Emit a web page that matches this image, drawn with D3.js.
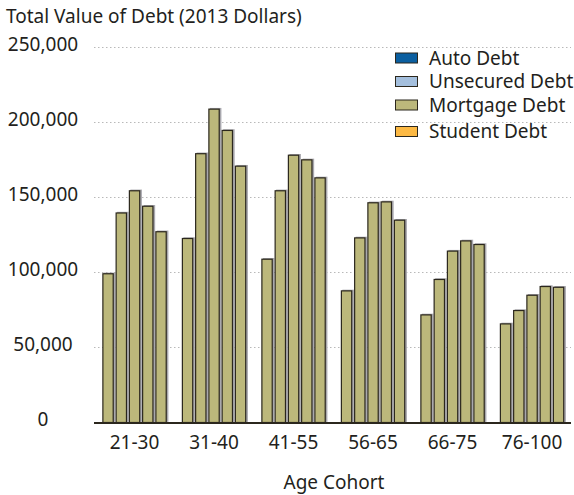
<!DOCTYPE html>
<html>
<head>
<meta charset="utf-8">
<script src="https://cdn.jsdelivr.net/npm/d3@7"></script>
<style>
  html, body { margin: 0; padding: 0; background: #fff; }
  svg { display: block; }
  text { font-family: "Noto Sans", "Open Sans", sans-serif; fill: #231f20; }
</style>
</head>
<body>
<svg id="chart" width="574" height="495"></svg>
<script>
// ---- data ----
const cohorts = ["21-30", "31-40", "41-55", "56-65", "66-75", "76-100"];
const years = ["2001", "2004", "2007", "2010", "2013"];
const mortgage2130 = [99500, 140000, 154800, 144500, 127500];
const mortgage3140 = [123000, 179500, 209200, 195000, 171200];
const mortgage4155 = [109200, 154800, 178500, 175400, 163400];
const mortgage5665 = [88100, 123400, 146800, 147400, 135200];
const mortgage6675 = [72100, 95700, 114600, 121400, 119000];
const mortgage76100 = [66100, 75000, 85200, 91000, 90500];
const yTicks = [0, 50000, 100000, 150000, 200000, 250000];
const legendLabels = ["Auto Debt", "Unsecured Debt", "Mortgage Debt", "Student Debt"];
const legendColors = ["#0b5fa0", "#a4bfdd", "#bcb87b", "#fcb944"];

const mortgageByCohort = [mortgage2130, mortgage3140, mortgage4155, mortgage5665, mortgage6675, mortgage76100];
const rows = cohorts.map((c, i) => ({ cohort: c, values: years.map((y, j) => ({ year: y, value: mortgageByCohort[i][j] })) }));

// ---- layout ----
const svg = d3.select("#chart");
const plotLeft = 94, plotRight = 571;
const y = d3.scaleLinear().domain([0, 250000]).range([422.5, 47.3]);
const x0 = d3.scaleBand().domain(cohorts).range([94.8, 571.8]).paddingInner(0.1667).paddingOuter(0.0833);
const x1 = d3.scaleBand().domain(years).range([0, x0.bandwidth()]).paddingInner(0.13).paddingOuter(0.065);

// title
svg.append("text").attr("x", 6).attr("y", 23).style("font-size", "19px").text("Total Value of Debt (2013 Dollars)");

// gridlines
svg.append("g").selectAll("line").data(yTicks.filter(d => d > 0)).join("line")
  .attr("x1", plotLeft).attr("x2", plotRight)
  .attr("y1", d => Math.round(y(d)) + 0.5).attr("y2", d => Math.round(y(d)) + 0.5)
  .attr("stroke", "#b9b9b9").attr("stroke-width", 1).attr("stroke-dasharray", "1.5,2.5");

// y labels
svg.append("g").selectAll("text").data(yTicks).join("text")
  .attr("x", 43).attr("y", d => y(d) + 3.5)
  .attr("text-anchor", "middle").style("font-size", "19px")
  .text(d => d3.format(",")(d));

// bars
const groups = svg.append("g").selectAll("g").data(rows).join("g")
  .attr("transform", d => `translate(${x0(d.cohort)},0)`);
groups.selectAll("rect.shadow").data(d => d.values).join("rect").attr("class", "shadow")
  .attr("x", d => x1(d.year) + 1.6).attr("y", d => y(d.value) - 0.6)
  .attr("width", x1.bandwidth()).attr("height", d => y(0) - y(d.value))
  .attr("fill", "#a9a8ae");
groups.selectAll("rect.bar").data(d => d.values).join("rect").attr("class", "bar")
  .attr("x", d => x1(d.year) + 0.6).attr("y", d => y(d.value) + 0.6)
  .attr("width", x1.bandwidth() - 1.2).attr("height", d => y(0) - y(d.value) - 0.6)
  .attr("fill", legendColors[2]).attr("stroke", "#2b271d").attr("stroke-width", 1.2);

// baseline
svg.append("line").attr("x1", plotLeft).attr("x2", plotRight)
  .attr("y1", y(0) + 0.5).attr("y2", y(0) + 0.5)
  .attr("stroke", "#2b271d").attr("stroke-width", 2);

// x labels
svg.append("g").selectAll("text").data(cohorts).join("text")
  .attr("x", d => x0(d) + x0.bandwidth() / 2).attr("y", 448.5)
  .attr("text-anchor", "middle").style("font-size", "19px").text(d => d);

svg.append("text").attr("x", 334).attr("y", 489).attr("text-anchor", "middle")
  .style("font-size", "19px").text("Age Cohort");

// legend
const legendY = [58, 81.5, 105, 131.5];
const lg = svg.append("g").selectAll("g").data(legendLabels).join("g")
  .attr("transform", (d, i) => `translate(395,${legendY[i]})`);
lg.append("rect").attr("x", 0.5).attr("y", -5).attr("width", 22).attr("height", 10)
  .attr("fill", (d, i) => legendColors[i]).attr("stroke", "#2b271d").attr("stroke-width", 1);
lg.append("text").attr("x", 34).attr("y", 6.5).style("font-size", "19px").text(d => d);
</script>
</body>
</html>
